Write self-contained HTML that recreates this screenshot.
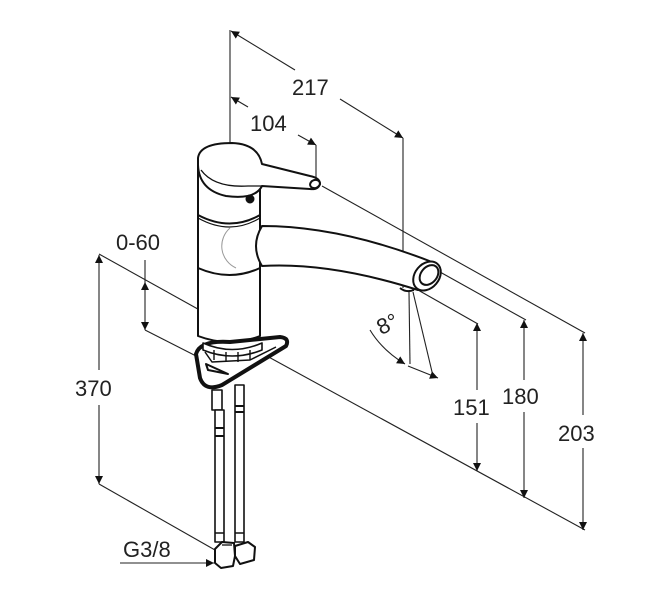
<!DOCTYPE html>
<html><head><meta charset="utf-8"><style>
html,body{margin:0;padding:0;background:#fff;}
svg{display:block;}
text{font-family:"Liberation Sans","DejaVu Sans",sans-serif;font-size:22px;fill:#222;}
</style></head><body>
<svg width="657" height="612" viewBox="0 0 657 612" xmlns="http://www.w3.org/2000/svg">
<defs>
<marker id="a" viewBox="0 0 10 10" refX="10" refY="5" markerWidth="10" markerHeight="8" orient="auto-start-reverse" markerUnits="userSpaceOnUse"><path d="M0,0 L10,5 L0,10 z" fill="#111"/></marker>
</defs>
<g stroke="#222" stroke-width="1.1" fill="none">
<line x1="230" y1="30" x2="230" y2="258"/>
<line x1="231" y1="31" x2="295" y2="70" marker-start="url(#a)"/>
<line x1="340" y1="99" x2="403" y2="138" marker-end="url(#a)"/>
<line x1="403" y1="138" x2="403" y2="288"/>
<line x1="231" y1="97" x2="248" y2="107" marker-start="url(#a)"/>
<line x1="298" y1="135" x2="316" y2="145" marker-end="url(#a)"/>
<line x1="316" y1="145" x2="316" y2="180"/>
<line x1="322" y1="186" x2="585" y2="333"/>
<line x1="440" y1="272" x2="526" y2="320"/>
<line x1="418" y1="290" x2="478" y2="324"/>
<line x1="265" y1="355" x2="585" y2="530"/>
<line x1="583" y1="333" x2="583" y2="415" marker-start="url(#a)"/>
<line x1="583" y1="448" x2="583" y2="530" marker-end="url(#a)"/>
<line x1="524" y1="320" x2="524" y2="380" marker-start="url(#a)"/>
<line x1="524" y1="412" x2="524" y2="498" marker-end="url(#a)"/>
<line x1="477" y1="323" x2="477" y2="390" marker-start="url(#a)"/>
<line x1="477" y1="423" x2="477" y2="471" marker-end="url(#a)"/>
<line x1="99" y1="254" x2="205" y2="313"/>
<line x1="99" y1="255" x2="99" y2="370" marker-start="url(#a)"/>
<line x1="99" y1="405" x2="99" y2="484" marker-end="url(#a)"/>
<line x1="99" y1="484" x2="215" y2="550"/>
<line x1="145" y1="260" x2="145" y2="282"/>
<line x1="145" y1="282" x2="145" y2="330" marker-start="url(#a)" marker-end="url(#a)"/>
<line x1="145" y1="330" x2="200" y2="358"/>
<line x1="120" y1="563" x2="214" y2="563" marker-end="url(#a)"/>
<path d="M370,330 Q382,350 405,364" marker-end="url(#a)"/>
<line x1="409" y1="292" x2="410" y2="364"/>
<line x1="413" y1="292" x2="433" y2="376"/>
<line x1="408" y1="366" x2="438" y2="378" marker-end="url(#a)"/>
</g>

<g stroke="#111" stroke-width="2" fill="#fff" stroke-linejoin="round">
<path d="M198,160 L198,336 Q230,348 260,336 L260,165 Z"/>
<path d="M198,215 Q230,232 260,215" fill="none"/>
<path d="M198,218 Q230,236 260,218" fill="none" stroke-width="1.2"/>
<path d="M198,268 Q230,282 260,268" fill="none"/>
<path d="M198,158 Q200,143 232,143 Q258,144 262,164 L310,176 Q320,178 320,184 Q318,190 310,189 L262,186 Q255,200 226,196 Q199,190 198,165 Z"/>
<path d="M201,170 Q214,188 248,186 L262,186" fill="none" stroke-width="1.3"/>
<ellipse cx="315" cy="184" rx="5" ry="4" transform="rotate(-20 315 184)"/>
<circle cx="250" cy="199" r="3.5" fill="#111"/>
<path d="M262,226 Q340,226 432,262 L418,290 Q330,262 262,266 Q250,246 262,226 Z"/>
<ellipse cx="427" cy="276" rx="12" ry="16" transform="rotate(40 427 276)"/>
<ellipse cx="429" cy="275" rx="8" ry="11" transform="rotate(40 429 275)"/>
<path d="M400,288 Q406,293 414,290" fill="none"/>
</g>
<path d="M230,228 A24,24 0 0 0 236,268" stroke="#999" stroke-width="1" fill="none"/>

<g stroke="#111" fill="#fff" stroke-linejoin="round">
<path d="M196,354 Q200,340 230,342 L280,337 Q290,338 286,346 L222,385 Q205,392 200,378 Z" stroke-width="4"/>
<path d="M205,352 L212,362 L250,360 L276,347" fill="none" stroke-width="1.5"/>
<path d="M206,364 L228,374 L208,370 Z" stroke-width="2"/>
<path d="M203,343 Q232,356 262,343 L262,350 Q232,362 203,350 Z" stroke-width="1.6"/>
<line x1="214" y1="350" x2="214" y2="360" stroke-width="1.4"/>
<line x1="226" y1="352" x2="226" y2="362" stroke-width="1.4"/>
<line x1="238" y1="352" x2="238" y2="362" stroke-width="1.4"/>
<line x1="250" y1="350" x2="250" y2="360" stroke-width="1.4"/>
<rect x="212" y="390" width="10" height="20" stroke-width="1.6"/>
<rect x="215" y="410" width="9" height="132" stroke-width="1.6"/>
<rect x="235" y="385" width="9" height="157" stroke-width="1.6"/>
<line x1="215" y1="428" x2="224" y2="428" stroke-width="2"/>
<line x1="215" y1="436" x2="224" y2="436" stroke-width="2"/>
<line x1="235" y1="406" x2="244" y2="406" stroke-width="2"/>
<line x1="235" y1="412" x2="244" y2="412" stroke-width="2"/>
<line x1="215" y1="533" x2="224" y2="533" stroke-width="1.5"/>
<line x1="235" y1="533" x2="244" y2="533" stroke-width="1.5"/>
<path d="M215,549 L222,542 L234,543 L235,556 L233,566 L221,568 L215,563 Z" stroke-width="2"/>
<path d="M235,546 L248,542 L255,547 L254,560 L240,564 L235,556 Z" stroke-width="2"/>
<line x1="222" y1="545" x2="232" y2="545" stroke-width="1.3"/>
</g>

<text x="292" y="95">217</text>
<text x="250" y="131">104</text>
<text x="116" y="250">0-60</text>
<text x="75" y="396">370</text>
<text x="453" y="415">151</text>
<text x="502" y="404">180</text>
<text x="558" y="441">203</text>
<text x="123" y="557">G3/8</text>
<text x="377" y="333" transform="rotate(-25 384 325)">8°</text>
</svg>
</body></html>
